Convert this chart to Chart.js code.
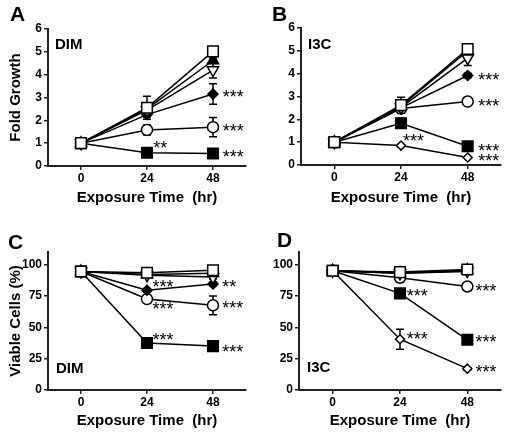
<!DOCTYPE html>
<html>
<head>
<title>Fold growth and viability</title>
<script src="https://cdn.jsdelivr.net/npm/chart.js"></script>
<style>
  body { margin: 0; background: #fff; }
  #wrap { position: relative; width: 510px; height: 434px; font-family: "Liberation Sans", Arial, sans-serif; }
  canvas { position: absolute; }
  .lbl { position: absolute; font-weight: bold; line-height: 1; color: #000; white-space: nowrap; }
  .big { font-size: 21px; }
  .small { font-size: 15px; }
</style>
</head>
<body>
<div id="wrap">
  <canvas id="cA" width="255" height="217" style="left:0;top:0"></canvas>
  <canvas id="cB" width="255" height="217" style="left:255px;top:0"></canvas>
  <canvas id="cC" width="255" height="217" style="left:0;top:217px"></canvas>
  <canvas id="cD" width="255" height="217" style="left:255px;top:217px"></canvas>
  <div class="lbl big" style="left:10px;top:3px">A</div>
  <div class="lbl big" style="left:272px;top:3px">B</div>
  <div class="lbl big" style="left:8px;top:231px">C</div>
  <div class="lbl big" style="left:277px;top:229px">D</div>
  <div class="lbl small" style="left:55px;top:36px">DIM</div>
  <div class="lbl small" style="left:308px;top:36px">I3C</div>
  <div class="lbl small" style="left:56px;top:360px">DIM</div>
  <div class="lbl small" style="left:307px;top:359px">I3C</div>
</div>
<script>
// exposure times (hr)
var times = [0, 24, 48];
var xTicks = [0, 24, 48];
var foldTicks = [0, 1, 2, 3, 4, 5, 6];
var viableTicks = [0, 25, 50, 75, 100];

// series order: open square, filled triangle, open inverted triangle,
// filled diamond, open circle, filled square, open diamond
var foldDIM = [
    [1, 2.55, 5.02],
    [1, 2.5, 4.62],
    [1, 2.45, 4.2],
    [1, 2.25, 3.15],
    [1, 1.58, 1.7],
    [1, 0.58, 0.55]
];
var foldDIMErr = [
    [0, 0.5, 0.08],
    [0, 0.2, 0.1],
    [0, 0.25, 0.35],
    [0, 0.1, 0.45],
    [0, 0.22, 0.42],
    [0, 0.05, 0.05]
];
var foldI3C = [
    [1, 2.62, 5.08],
    [1, 2.58, 5.0],
    [1, 2.52, 4.68],
    [1, 2.5, 3.92],
    [1, 2.47, 2.78],
    [1, 1.83, 0.82],
    [1, 0.85, 0.33]
];
var foldI3CErr = [
    [0, 0.35, 0.12],
    [0, 0.1, 0.1],
    [0, 0.15, 0.32],
    [0, 0.1, 0.1],
    [0, 0.1, 0.05],
    [0, 0.22, 0.05],
    [0, 0.05, 0.03]
];
var viableDIM = [
    [94.5, 93.5, 95.5],
    [94.5, 92, 93],
    [94.5, 91.5, 90],
    [94.5, 79.5, 84.5],
    [94.5, 72.5, 67.5],
    [94.5, 37.5, 35]
];
var viableDIMErr = [
    [0, 1, 1],
    [0, 1, 1],
    [0, 1.5, 1.5],
    [0, 1.5, 1.5],
    [0, 2, 7.5],
    [0, 1, 1]
];
var viableI3C = [
    [95, 94, 96],
    [95, 93.5, 95.5],
    [95, 93, 95],
    [95, 93, 94.5],
    [95, 89.5, 82.5],
    [95, 77, 40],
    [95, 40.5, 17]
];
var viableI3CErr = [
    [0, 1, 1],
    [0, 1, 1],
    [0, 1, 1.5],
    [0, 1, 1],
    [0, 1.5, 1.5],
    [0, 1.5, 1.5],
    [0, 8, 1]
];

// significance marks: [x, y, text]
var starsFoldDIM = [[51.5, 3.2, '***'], [51.5, 1.72, '***'], [51.5, 0.57, '***'], [26.3, 0.98, '**']];
var starsFoldI3C = [[51.8, 3.93, '***'], [51.8, 2.78, '***'], [51.8, 0.82, '***'], [51.8, 0.36, '***'], [24.7, 1.25, '***']];
var starsViableDIM = [[26, 85.5, '***'], [26, 68, '***'], [26, 43.5, '***'], [51.4, 85.5, '**'], [51.4, 69, '***'], [51.4, 33.5, '***']];
var starsViableI3C = [[50.9, 82.5, '***'], [50.9, 41.5, '***'], [50.9, 18, '***'], [26.4, 78.8, '***'], [26.4, 44.5, '***']];

var markers = [
    { style: 'rect', r: 7.5, fill: '#fff', rot: 0 },
    { style: 'triangle', r: 6.5, fill: '#000', rot: 0 },
    { style: 'triangle', r: 6.5, fill: '#fff', rot: 180 },
    { style: 'rectRot', r: 5, fill: '#000', rot: 0 },
    { style: 'circle', r: 5.5, fill: '#fff', rot: 0 },
    { style: 'rect', r: 7.5, fill: '#000', rot: 0 },
    { style: 'rectRot', r: 4.5, fill: '#fff', rot: 0 }
];

var FONT = '"Liberation Sans", Arial, sans-serif';

// vertical error bars, drawn under the markers
var errorBars = {
    id: 'errorBars',
    beforeDatasetsDraw: function(chart, args, opts) {
        var ctx = chart.ctx, xs = chart.scales.x, ys = chart.scales.y;
        ctx.save();
        ctx.strokeStyle = '#000';
        ctx.lineWidth = 1.5;
        opts.errs.forEach(function(row, i) {
            row.forEach(function(e, j) {
                if (!e) return;
                var v = opts.vals[i][j];
                var px = xs.getPixelForValue(times[j]);
                var top = ys.getPixelForValue(v + e), bot = ys.getPixelForValue(v - e);
                ctx.beginPath();
                ctx.moveTo(px, top); ctx.lineTo(px, bot);
                ctx.moveTo(px - 4, top); ctx.lineTo(px + 4, top);
                ctx.moveTo(px - 4, bot); ctx.lineTo(px + 4, bot);
                ctx.stroke();
            });
        });
        ctx.restore();
    }
};

var starMarks = {
    id: 'starMarks',
    afterDatasetsDraw: function(chart, args, opts) {
        var ctx = chart.ctx, xs = chart.scales.x, ys = chart.scales.y;
        ctx.save();
        ctx.fillStyle = '#000';
        ctx.font = '18px ' + FONT;
        ctx.textAlign = 'left';
        ctx.textBaseline = 'alphabetic';
        opts.list.forEach(function(s) {
            ctx.fillText(s[2], xs.getPixelForValue(s[0]), ys.getPixelForValue(s[1]) + 10.5);
        });
        ctx.restore();
    }
};

function makeChart(id, vals, errs, stars, yTicks, yMax, box) {
    var datasets = vals.map(function(row, i) {
        var m = markers[i];
        return {
            label: 'series ' + (i + 1),
            data: row.map(function(v, j) { return { x: times[j], y: v }; }),
            borderColor: '#000',
            borderWidth: 1.5,
            pointStyle: m.style,
            pointRadius: m.r,
            pointRotation: m.rot,
            pointBackgroundColor: m.fill,
            pointBorderColor: '#000',
            pointBorderWidth: 1.5,
            tension: 0,
            clip: false
        };
    });
    var tickFont = { family: FONT, size: 12, weight: 'bold' };
    return new Chart(document.getElementById(id), {
        type: 'line',
        data: { datasets: datasets },
        options: {
            responsive: false,
            animation: false,
            layout: { padding: { left: 0, right: box.right, top: box.top, bottom: 0 } },
            plugins: {
                legend: { display: false },
                tooltip: { enabled: false },
                errorBars: { vals: vals, errs: errs },
                starMarks: { list: stars }
            },
            scales: {
                x: {
                    type: 'linear',
                    min: -12, max: 60,
                    afterBuildTicks: function(s) { s.ticks = xTicks.map(function(v) { return { value: v }; }); },
                    afterFit: function(s) { s.height = box.xh; },
                    grid: { drawOnChartArea: false, color: '#222', lineWidth: 1.5, tickLength: 4 },
                    border: { color: '#222', width: 2 },
                    ticks: { color: '#000', font: tickFont, padding: 1, maxRotation: 0 },
                    title: {
                        display: true, text: 'Exposure Time  (hr)', color: '#000',
                        font: { family: FONT, size: 15, weight: 'bold' },
                        padding: { top: 0, bottom: box.xtPad }
                    }
                },
                y: {
                    type: 'linear',
                    min: 0, max: yMax,
                    afterBuildTicks: function(s) { s.ticks = yTicks.map(function(v) { return { value: v }; }); },
                    afterFit: function(s) { s.width = box.yw; },
                    grid: { drawOnChartArea: false, color: '#222', lineWidth: 1.5, tickLength: 4 },
                    border: { color: '#222', width: 2 },
                    ticks: { color: '#000', font: tickFont, padding: 2 },
                    title: {
                        display: !!box.ytitle, text: box.ytitle || '', color: '#000',
                        font: { family: FONT, size: 15, weight: 'bold' },
                        padding: { top: 7, bottom: 0 }
                    }
                }
            }
        },
        plugins: [errorBars, starMarks]
    });
}

makeChart('cA', foldDIM, foldDIMErr, starsFoldDIM, foldTicks, 6,
    { right: 2, top: 29, xh: 51, yw: 48, xtPad: 10, ytitle: 'Fold Growth' });
makeChart('cB', foldI3C, foldI3CErr, starsFoldI3C, foldTicks, 6,
    { right: 3, top: 28, xh: 52, yw: 46, xtPad: 10 });
makeChart('cC', viableDIM, viableDIMErr, starsViableDIM, viableTicks, 110,
    { right: 2, top: 35, xh: 44, yw: 48, xtPad: 4, ytitle: 'Viable Cells (%)' });
makeChart('cD', viableI3C, viableI3CErr, starsViableI3C, viableTicks, 110,
    { right: 3, top: 35, xh: 44, yw: 44, xtPad: 4 });
</script>
</body>
</html>
